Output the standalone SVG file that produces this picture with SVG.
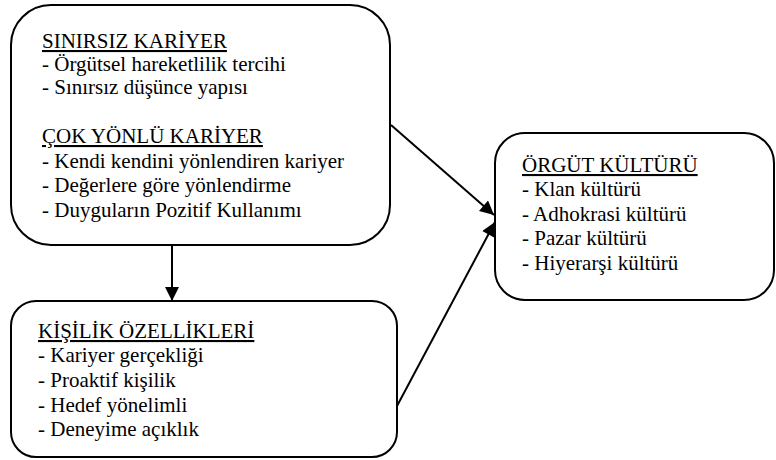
<svg xmlns="http://www.w3.org/2000/svg" width="776" height="460" viewBox="0 0 776 460">
<style>
.box{fill:#fff;stroke:#000;stroke-width:2}
.t{font-family:"Liberation Serif","Times New Roman",serif;font-size:21px;fill:#000}
.h{text-decoration:underline}
.c{stroke:#000;stroke-width:2;fill:none}
</style>
<defs>
<marker id="ah" viewBox="0 0 10 10" refX="10" refY="5" markerWidth="7.5" markerHeight="7" markerUnits="strokeWidth" orient="auto">
<path d="M0,0 L10,5 L0,10 z" fill="#000"/>
</marker>
</defs>
<g id="connectors">
<line class="c" x1="172" y1="245" x2="172" y2="301" marker-end="url(#ah)"/>
<line class="c" x1="391" y1="125" x2="494" y2="215" marker-end="url(#ah)"/>
<line class="c" x1="397" y1="406" x2="495" y2="222" marker-end="url(#ah)"/>
</g>
<g id="node-sinirsiz">
<rect class="box" x="11" y="5" width="379" height="240" rx="40" ry="40"/>
<text class="t h" x="42" y="48">SINIRSIZ KARİYER</text>
<text class="t" x="42" y="71">- Örgütsel hareketlilik tercihi</text>
<text class="t" x="42" y="94">- Sınırsız düşünce yapısı</text>
<text class="t h" x="42" y="143">ÇOK YÖNLÜ KARİYER</text>
<text class="t" x="42" y="168">- Kendi kendini yönlendiren kariyer</text>
<text class="t" x="42" y="192">- Değerlere göre yönlendirme</text>
<text class="t" x="42" y="217">- Duyguların Pozitif Kullanımı</text>
</g>
<g id="node-kisilik">
<rect class="box" x="11" y="301" width="386" height="156" rx="25" ry="25"/>
<text class="t h" x="38" y="338">KİŞİLİK ÖZELLİKLERİ</text>
<text class="t" x="38" y="362">- Kariyer gerçekliği</text>
<text class="t" x="38" y="387">- Proaktif kişilik</text>
<text class="t" x="38" y="412">- Hedef yönelimli</text>
<text class="t" x="38" y="436">- Deneyime açıklık</text>
</g>
<g id="node-orgut">
<rect class="box" x="495" y="133" width="279" height="167" rx="30" ry="30"/>
<text class="t h" x="522" y="172">ÖRGÜT KÜLTÜRÜ</text>
<text class="t" x="522" y="196">- Klan kültürü</text>
<text class="t" x="522" y="221">- Adhokrasi kültürü</text>
<text class="t" x="522" y="245">- Pazar kültürü</text>
<text class="t" x="522" y="270">- Hiyerarşi kültürü</text>
</g>
</svg>
